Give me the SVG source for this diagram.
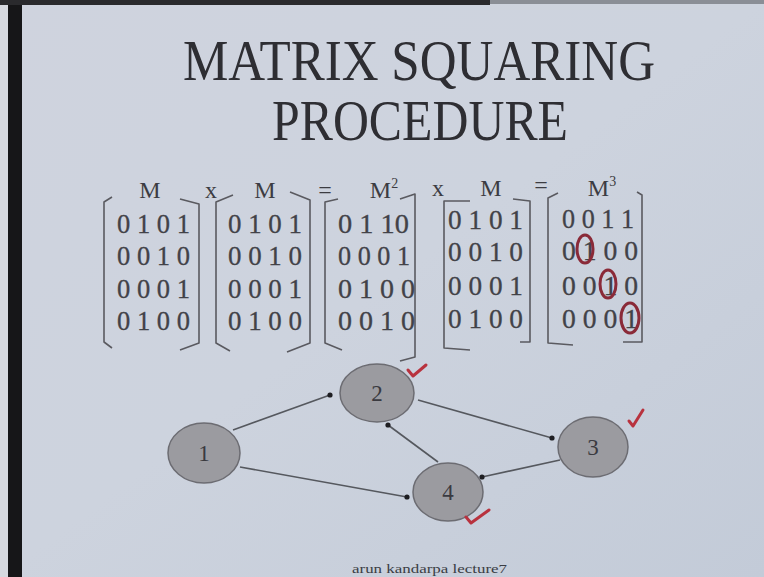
<svg xmlns="http://www.w3.org/2000/svg" width="764" height="577" viewBox="0 0 764 577">
<defs>
<linearGradient id="bg" x1="0" y1="0" x2="1" y2="1">
<stop offset="0" stop-color="#cfd3de"/>
<stop offset="0.5" stop-color="#cdd3de"/>
<stop offset="1" stop-color="#c3cbd8"/>
</linearGradient>
<marker id="dot" viewBox="0 0 6 6" refX="3" refY="3" markerWidth="6" markerHeight="6" markerUnits="userSpaceOnUse">
<circle cx="3" cy="3" r="2.6" fill="#1e1e22"/>
</marker>
</defs>
<style>
.title{font-family:"Liberation Serif","Times New Roman",serif;fill:#2e2e33}
.mx{font-family:"Liberation Serif","Times New Roman",serif;font-size:27px;fill:#424248;stroke:#424248;stroke-width:0.3}
.lab{font-family:"Liberation Serif","Times New Roman",serif;font-size:24px;fill:#3c3c42;text-anchor:middle}
.br{fill:none;stroke:#5a5a60;stroke-width:1.6;stroke-linejoin:round}
.node ellipse{fill:#9b9ba0;stroke:#6c6c72;stroke-width:1.5}
.node text{font-family:"Liberation Serif","Times New Roman",serif;font-size:23px;fill:#3a3a40;text-anchor:middle}
.edge{stroke:#55585e;stroke-width:1.6;fill:none;marker-end:url(#dot)}
.circ{fill:none;stroke:#8a2a38;stroke-width:3}
.tick{fill:none;stroke:#b8323e;stroke-width:3;stroke-linecap:round;stroke-linejoin:round}
</style>
<rect width="764" height="577" fill="url(#bg)"/>
<rect x="0" y="0" width="8" height="577" fill="#d6d9df"/>
<rect x="8" y="0" width="14" height="577" fill="#161618"/>
<rect x="0" y="0" width="490" height="5" fill="#2a2a2d"/>
<rect x="490" y="0" width="274" height="4" fill="#8a8e96"/>

<g id="title">
<text class="title" x="183" y="80" font-size="56" textLength="472" lengthAdjust="spacingAndGlyphs">MATRIX SQUARING</text>
<text class="title" x="272" y="140" font-size="56" textLength="296" lengthAdjust="spacingAndGlyphs">PROCEDURE</text>
</g>

<g id="labels">
<text class="lab" x="150" y="198">M</text>
<text class="lab" x="211" y="198">x</text>
<text class="lab" x="265" y="198">M</text>
<text class="lab" x="325" y="198">=</text>
<text class="lab" x="384" y="198">M<tspan font-size="14" dy="-10">2</tspan></text>
<text class="lab" x="438" y="196">x</text>
<text class="lab" x="491" y="196">M</text>
<text class="lab" x="541" y="193">=</text>
<text class="lab" x="602" y="196">M<tspan font-size="14" dy="-10">3</tspan></text>
</g>

<g id="matrix-M1">
<path class="br" d="M112,197 L104,202 L104,342 L112,348"/>
<path class="br" d="M180,199 L199,204 L199,343 L180,350"/>
<text class="mx" x="117" y="233" textLength="73" lengthAdjust="spacingAndGlyphs">0 1 0 1</text>
<text class="mx" x="117" y="265" textLength="73" lengthAdjust="spacingAndGlyphs">0 0 1 0</text>
<text class="mx" x="117" y="298" textLength="73" lengthAdjust="spacingAndGlyphs">0 0 0 1</text>
<text class="mx" x="117" y="330" textLength="73" lengthAdjust="spacingAndGlyphs">0 1 0 0</text>
</g>

<g id="matrix-M2">
<path class="br" d="M233,195 L216,202 L216,343 L230,351"/>
<path class="br" d="M290,192 L310,200 L310,343 L287,352"/>
<text class="mx" x="228" y="233" textLength="74" lengthAdjust="spacingAndGlyphs">0 1 0 1</text>
<text class="mx" x="228" y="265" textLength="74" lengthAdjust="spacingAndGlyphs">0 0 1 0</text>
<text class="mx" x="228" y="298" textLength="74" lengthAdjust="spacingAndGlyphs">0 0 0 1</text>
<text class="mx" x="228" y="330" textLength="74" lengthAdjust="spacingAndGlyphs">0 1 0 0</text>
</g>

<g id="matrix-M2-result">
<path class="br" d="M338,199 L325,202 L325,343 L342,350"/>
<path class="br" d="M400,199 L415,194 L415,357 L400,361"/>
<text class="mx" x="338" y="233" textLength="71" lengthAdjust="spacingAndGlyphs">0 1 10</text>
<text class="mx" x="338" y="265" textLength="72" lengthAdjust="spacingAndGlyphs">0 0 0 1</text>
<text class="mx" x="338" y="298" textLength="77" lengthAdjust="spacingAndGlyphs">0 1 0 0</text>
<text class="mx" x="338" y="330" textLength="77" lengthAdjust="spacingAndGlyphs">0 0 1 0</text>
</g>

<g id="matrix-M4">
<path class="br" d="M470,201 L444,201 L444,348 L470,350"/>
<path class="br" d="M513,199 L530,201 L530,342 L520,342"/>
<text class="mx" x="448" y="229" textLength="75" lengthAdjust="spacingAndGlyphs">0 1 0 1</text>
<text class="mx" x="448" y="261" textLength="75" lengthAdjust="spacingAndGlyphs">0 0 1 0</text>
<text class="mx" x="448" y="295" textLength="75" lengthAdjust="spacingAndGlyphs">0 0 0 1</text>
<text class="mx" x="448" y="328" textLength="75" lengthAdjust="spacingAndGlyphs">0 1 0 0</text>
</g>

<g id="matrix-M3">
<path class="br" d="M558,193 L548,198 L548,343 L573,345"/>
<path class="br" d="M637,192 L642,195 L642,342 L623,342"/>
<text class="mx" x="562" y="228" textLength="72" lengthAdjust="spacingAndGlyphs">0 0 1 1</text>
<text class="mx" x="562" y="260" textLength="76" lengthAdjust="spacingAndGlyphs">0 1 0 0</text>
<text class="mx" x="562" y="295" textLength="76" lengthAdjust="spacingAndGlyphs">0 0 1 0</text>
<text class="mx" x="562" y="328" textLength="76" lengthAdjust="spacingAndGlyphs">0 0 0 1</text>
<ellipse class="circ" cx="585" cy="249" rx="8" ry="14"/>
<ellipse class="circ" cx="608" cy="284" rx="8" ry="14"/>
<ellipse class="circ" cx="630" cy="318" rx="9" ry="15"/>
</g>

<g id="connectors">
<line class="edge" x1="233" y1="430" x2="330" y2="395"/>
<line class="edge" x1="240" y1="467" x2="407" y2="497"/>
<line class="edge" x1="438" y1="462" x2="388" y2="425"/>
<line class="edge" x1="418" y1="400" x2="552" y2="438"/>
<line class="edge" x1="560" y1="460" x2="482" y2="477"/>
</g>

<g id="node-1" class="node"><ellipse cx="204" cy="453" rx="36" ry="30"/><text x="204" y="461">1</text></g>
<g id="node-2" class="node"><ellipse cx="377" cy="393" rx="37" ry="29"/><text x="377" y="401">2</text></g>
<g id="node-3" class="node"><ellipse cx="593" cy="447" rx="35" ry="30"/><text x="593" y="455">3</text></g>
<g id="node-4" class="node"><ellipse cx="448" cy="492" rx="35" ry="29"/><text x="448" y="500">4</text></g>

<g id="checks">
<path class="tick" d="M408,370 L413,376 L426,365"/>
<path class="tick" d="M629,421 L633,426 L643,410"/>
<path class="tick" d="M466,517 L471,523 L489,510"/>
</g>

<text x="352" y="573" font-family="'Liberation Serif','Times New Roman',serif" font-size="12" fill="#3a3d44" textLength="155" lengthAdjust="spacingAndGlyphs">arun kandarpa lecture7</text>
</svg>
